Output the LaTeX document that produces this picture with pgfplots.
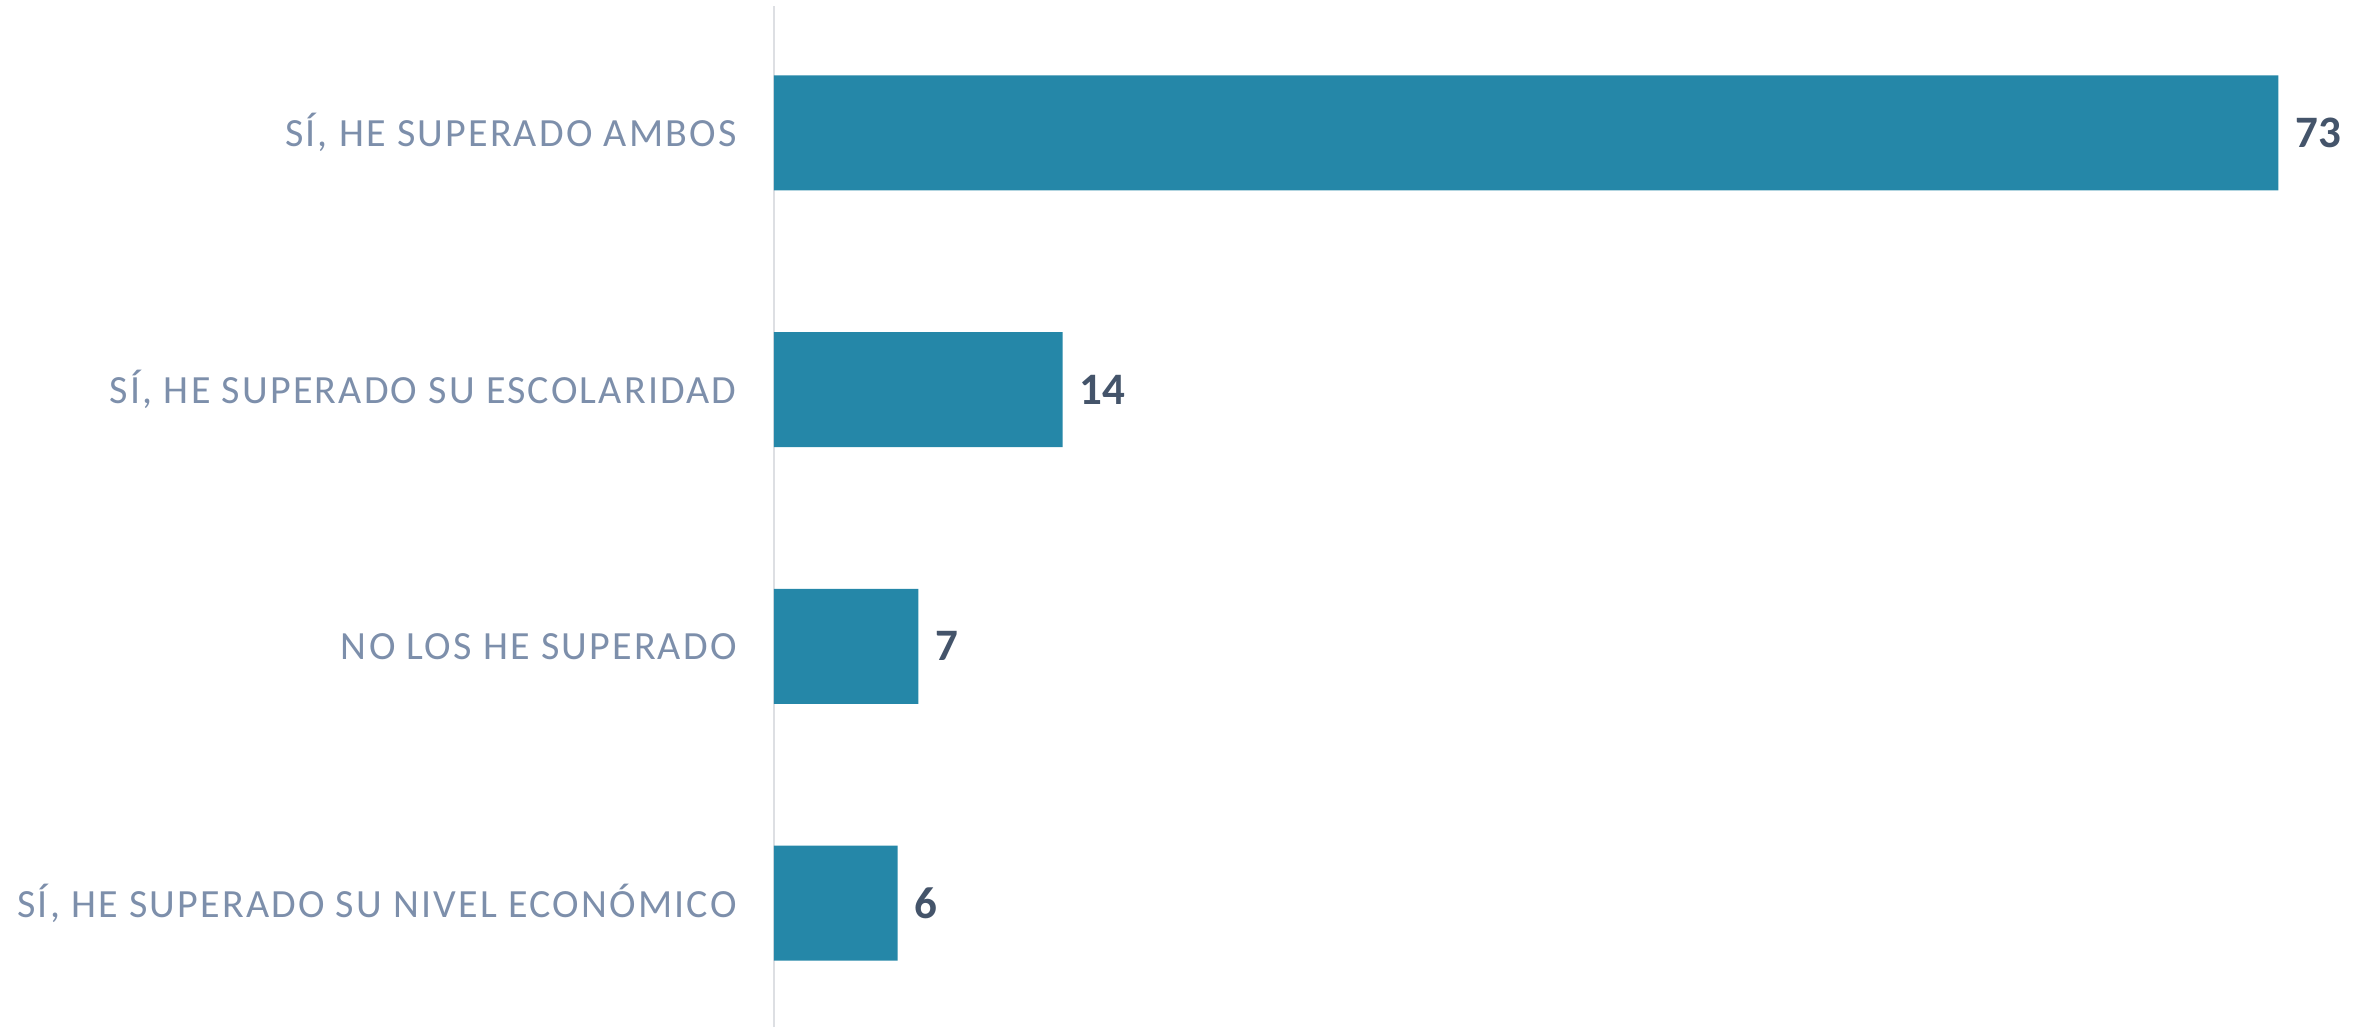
\documentclass[border=0pt]{standalone}
\usepackage{pgfplots}
\pgfplotsset{compat=1.18}
\usepackage{fontspec}
\setmainfont{Carlito}
\newfontfamily\labelfont[LetterSpace=5.5]{Carlito}
\definecolor{barcol}{HTML}{2587A8}
\definecolor{labcol}{HTML}{7D8FAB}
\definecolor{numcol}{HTML}{44546A}
\definecolor{axcol}{HTML}{DDDFE3}
\begin{document}
\begin{tikzpicture}
\begin{axis}[
  name=ax,
  scale only axis,
  width=477pt, height=306.3pt,
  xmin=0, xmax=77.15,
  ymin=-0.4825, ymax=3.494,
  xbar, bar width=34.5pt,
  axis x line=none,
  axis y line*=left,
  y axis line style={draw=axcol, line width=0.6pt},
  ytick={0,1,2,3},
  yticklabels={SÍ{,} HE SUPERADO SU NIVEL ECONÓMICO, NO LOS HE SUPERADO, SÍ{,} HE SUPERADO SU ESCOLARIDAD, SÍ{,} HE SUPERADO AMBOS},
  yticklabel style={font=\labelfont\fontsize{12}{14}\selectfont, text=labcol, inner sep=0pt, xshift=-11pt},
  major tick length=0pt,
  nodes near coords,
  /pgf/number format/assume math mode=true,
  every node near coord/.append style={font=\bfseries\fontsize{13.5}{15}\selectfont, text=numcol, anchor=west, xshift=1.5pt},
  clip=false,
]
\addplot[fill=barcol, draw=none] coordinates {(6,0) (7,1) (14,2) (73,3)};
\end{axis}
\pgfresetboundingbox
\path ([xshift=-232.2pt]ax.south west) rectangle ([yshift=1.8pt]ax.north east);
\end{tikzpicture}
\end{document}
